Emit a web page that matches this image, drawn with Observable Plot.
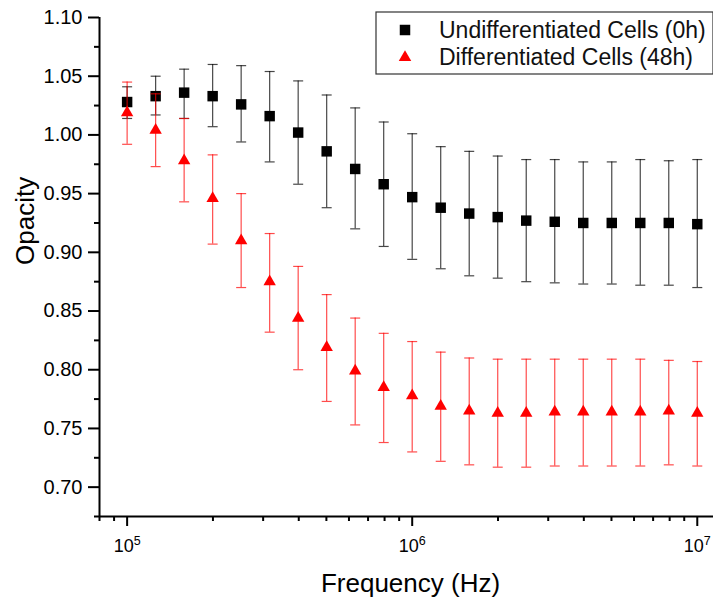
<!DOCTYPE html>
<html>
<head>
<meta charset="utf-8">
<script src="https://cdn.jsdelivr.net/npm/d3@7"></script>
<script src="https://cdn.jsdelivr.net/npm/@observablehq/plot@0.6"></script>
<style>
  html, body { margin: 0; padding: 0; background: #fff; }
  #wrap { position: relative; width: 713px; height: 601px; font-family: "Liberation Sans", Arial, sans-serif; color: #000; }
  #legend { position: absolute; left: 375px; top: 11px; }
</style>
</head>
<body>
<div id="wrap"></div>
<script>
// ---------- data ----------
const frequencies = [100000, 125893, 158489, 199526, 251189, 316228, 398107, 501187, 630957, 794328,
  1000000, 1258925, 1584893, 1995262, 2511886, 3162278, 3981072, 5011872, 6309573, 7943282, 10000000];

const seriesNames = ["Undifferentiated Cells (0h)", "Differentiated Cells (48h)"];

const undiffMean = [1.028, 1.033, 1.036, 1.033, 1.026, 1.016, 1.002, 0.986, 0.971, 0.958, 0.947,
  0.938, 0.933, 0.930, 0.927, 0.926, 0.925, 0.925, 0.925, 0.925, 0.924];
const undiffHigh = [1.041, 1.050, 1.056, 1.060, 1.059, 1.054, 1.046, 1.034, 1.023, 1.011, 1.001,
  0.990, 0.986, 0.982, 0.979, 0.979, 0.977, 0.977, 0.979, 0.978, 0.979];
const undiffLow = [1.014, 1.017, 1.014, 1.007, 0.994, 0.977, 0.958, 0.938, 0.920, 0.905, 0.894,
  0.886, 0.880, 0.878, 0.875, 0.874, 0.873, 0.873, 0.872, 0.872, 0.870];

const diffMean = [1.019, 1.004, 0.978, 0.946, 0.910, 0.875, 0.844, 0.819, 0.799, 0.785, 0.778,
  0.769, 0.765, 0.763, 0.763, 0.764, 0.764, 0.764, 0.764, 0.765, 0.763];
const diffHigh = [1.045, 1.035, 1.014, 0.983, 0.950, 0.916, 0.888, 0.864, 0.844, 0.831, 0.824,
  0.815, 0.810, 0.809, 0.809, 0.809, 0.809, 0.809, 0.809, 0.808, 0.807];
const diffLow = [0.992, 0.973, 0.943, 0.907, 0.870, 0.832, 0.800, 0.773, 0.753, 0.738, 0.730,
  0.722, 0.719, 0.717, 0.717, 0.718, 0.718, 0.718, 0.718, 0.719, 0.718];

const yTicks = [0.70, 0.75, 0.80, 0.85, 0.90, 0.95, 1.00, 1.05, 1.10];
const yMinorTicks = [0.675, 0.725, 0.775, 0.825, 0.875, 0.925, 0.975, 1.025, 1.075];
const xTicks = [100000, 1000000, 10000000];
const xMinorTicks = [80000, 90000, 200000, 300000, 400000, 500000, 600000, 700000, 800000, 900000,
  2000000, 3000000, 4000000, 5000000, 6000000, 7000000, 8000000, 9000000];
const xDomain = [80000, 11400000];
const yDomain = [0.675, 1.10];
const xLabel = "Frequency (Hz)";
const yLabel = "Opacity";

// ---------- tables ----------
const undiff = frequencies.map((f, i) => ({f, m: undiffMean[i], hi: undiffHigh[i], lo: undiffLow[i]}));
const diff = frequencies.map((f, i) => ({f, m: diffMean[i], hi: diffHigh[i], lo: diffLow[i]}));

const cap = { draw(ctx) { ctx.moveTo(-5, 0); ctx.lineTo(5, 0); } };

function errorMarks(data, color, opacity) {
  return [
    Plot.ruleX(data, {x: "f", y1: "lo", y2: "hi", stroke: color, strokeOpacity: opacity, strokeWidth: 1.2}),
    Plot.dot(data, {x: "f", y: "hi", symbol: cap, stroke: color, strokeOpacity: opacity, strokeWidth: 1.2, fill: "none"}),
    Plot.dot(data, {x: "f", y: "lo", symbol: cap, stroke: color, strokeOpacity: opacity, strokeWidth: 1.2, fill: "none"})
  ];
}

const supers = {"5": "5", "6": "6", "7": "7"};

const chart = Plot.plot({
  width: 713,
  height: 601,
  marginLeft: 99,
  marginRight: 0,
  marginTop: 17,
  marginBottom: 85,
  style: {fontFamily: '"Liberation Sans", Arial, sans-serif', color: "#000", background: "#fff", overflow: "visible"},
  x: {type: "log", domain: xDomain},
  y: {domain: yDomain},
  marks: [
    Plot.axisY({ticks: yTicks, tickFormat: d => d.toFixed(2), tickSize: 11, tickPadding: 6, fontSize: 20, strokeWidth: 2, label: null}),
    Plot.axisY({ticks: yMinorTicks, tickSize: 5, fill: "none", strokeWidth: 2, label: null}),
    Plot.axisX({ticks: xTicks, tickFormat: d => "10^" + Math.round(Math.log10(d)), tickSize: 10, tickPadding: 13, fontSize: 18, strokeWidth: 2, label: null}),
    Plot.axisX({ticks: xMinorTicks, tickSize: 5, fill: "none", strokeWidth: 2, label: null}),
    Plot.ruleX([xDomain[0]], {stroke: "#000", strokeWidth: 2}),
    Plot.ruleY([yDomain[0]], {stroke: "#000", strokeWidth: 2}),
    ...errorMarks(undiff, "#000", 0.72),
    Plot.dot(undiff, {x: "f", y: "m", symbol: "square", r: 5.9, fill: "#000"}),
    ...errorMarks(diff, "#ff0000", 0.7),
    Plot.dot(diff, {x: "f", y: "m", symbol: "triangle", r: 4.6, fill: "#ff0000"}),
    Plot.text([xLabel], {text: d => d, frameAnchor: "bottom", lineAnchor: "bottom", dy: 75, dx: 4, fontSize: 26, fill: "#000"}),
    Plot.text([yLabel], {text: d => d, frameAnchor: "left", rotate: -90, lineAnchor: "bottom", dx: -66, dy: -2, fontSize: 26, fill: "#000"})
  ]
});

const wrap = document.getElementById("wrap");
wrap.appendChild(chart);

// superscript exponents on x tick labels
d3.select(chart).selectAll("text").each(function () {
  const t = this.textContent;
  const m = /^10\^(\d+)$/.exec(t);
  if (m) {
    this.textContent = "10";
    d3.select(this).append("tspan").attr("dy", -7).attr("font-size", 12.5).text(m[1]);
  }
});

// legend overlay
const lg = d3.select(wrap).append("svg").attr("id", "legend").attr("width", 338).attr("height", 64);
lg.append("rect").attr("x", 1).attr("y", 1).attr("width", 337).attr("height", 62)
  .attr("fill", "#fff").attr("stroke", "#333").attr("stroke-width", 1.2);
const legendSymbols = [d3.symbolSquare, d3.symbolTriangle];
const legendSizes = [110, 68];
const legendColors = ["#000", "#ff0000"];
seriesNames.forEach((name, i) => {
  const cy = 19 + i * 27.5;
  lg.append("path").attr("d", d3.symbol(legendSymbols[i], legendSizes[i])())
    .attr("transform", `translate(30,${cy})`).attr("fill", legendColors[i]);
  lg.append("text").attr("x", 64).attr("y", cy + 7.5)
    .attr("font-family", '"Liberation Sans", Arial, sans-serif').attr("font-size", 23).attr("fill", "#111")
    .text(name);
});
</script>
</body>
</html>
